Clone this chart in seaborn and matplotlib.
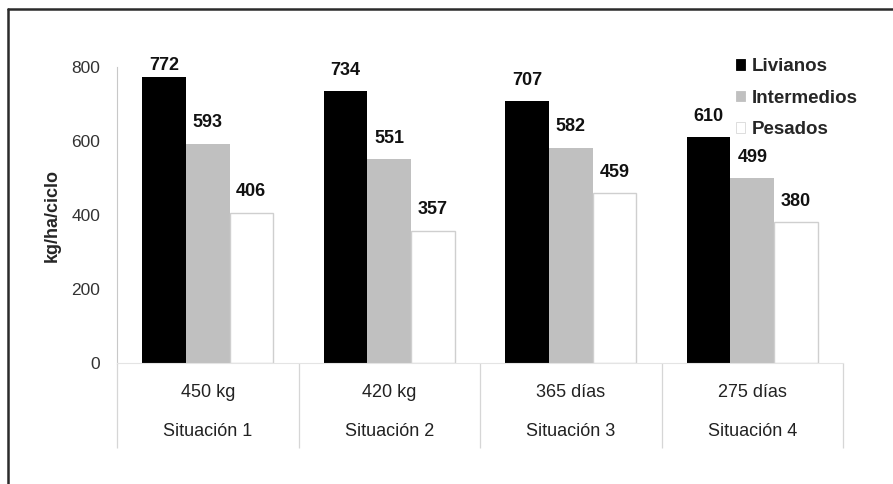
import pandas as pd
import numpy as np
import matplotlib.pyplot as plt
import seaborn as sns
from matplotlib.patches import Patch
from matplotlib.lines import Line2D
import matplotlib.transforms as mtransforms

# Datos
situaciones = ['Situación 1', 'Situación 2', 'Situación 3', 'Situación 4']
subetiquetas = ['450 kg', '420 kg', '365 días', '275 días']
categorias = ['Livianos', 'Intermedios', 'Pesados']
livianos = [772, 734, 707, 610]
intermedios = [593, 551, 582, 499]
pesados = [406, 357, 459, 380]
colores = ['#000000', '#c0c0c0', '#ffffff']


def configurar_estilos():
    sns.set_theme(style='white')
    plt.rcParams['font.family'] = ['Liberation Sans', 'DejaVu Sans']
    plt.rcParams['font.size'] = 12


def main():
    configurar_estilos()

    df = pd.DataFrame({
        'situacion': situaciones * 3,
        'categoria': np.repeat(categorias, len(situaciones)),
        'valor': livianos + intermedios + pesados,
    })

    fig = plt.figure(figsize=(8.93, 4.84), dpi=100)
    ax = fig.add_axes([117 / 893, 1 - 363 / 484, (843 - 117) / 893, 296 / 484])

    sns.barplot(data=df, x='situacion', y='valor', hue='categoria',
                order=situaciones, hue_order=categorias, palette=colores,
                width=0.72, edgecolor='none', linewidth=0, saturation=1,
                errorbar=None, legend=False, ax=ax)

    # borde gris claro para las barras blancas
    for barra in ax.containers[2]:
        barra.set_edgecolor('#cfcfcf')
        barra.set_linewidth(1.0)

    # etiquetas de valores sobre las barras
    for cont in ax.containers:
        for barra in cont:
            v = barra.get_height()
            xc = barra.get_x() + barra.get_width() / 2
            ax.text(xc, min(v + 57, 805), f'{v:.0f}', ha='center', va='center',
                    fontsize=13, fontweight='bold', color='#111111', clip_on=False)

    ax.set_ylim(0, 800)
    ax.set_xlim(-0.5, len(situaciones) - 0.5)
    ax.set_yticks([0, 200, 400, 600, 800])
    ax.tick_params(axis='y', length=0, pad=12, labelsize=12.5, labelcolor='#333333')
    ax.set_ylabel('kg/ha/ciclo', fontsize=13, fontweight='bold', labelpad=8)
    ax.set_xlabel('')

    # eje de categorías con dos niveles
    ax.set_xticks([])
    ax.set_xticks(np.arange(-0.5, len(situaciones)), minor=True)
    ax.tick_params(axis='x', which='minor', bottom=True, length=61, width=0.9,
                   color='#d6d6d6', direction='out')
    trans = mtransforms.blended_transform_factory(ax.transData, ax.transAxes)
    for i, (sub, sit) in enumerate(zip(subetiquetas, situaciones)):
        ax.text(i, -0.098, sub, transform=trans, ha='center', va='center',
                fontsize=13, color='#222222')
        ax.text(i, -0.233, sit, transform=trans, ha='center', va='center',
                fontsize=13, color='#222222')

    for lado in ['top', 'right']:
        ax.spines[lado].set_visible(False)
    ax.spines['left'].set_color('#c8c8c8')
    ax.spines['left'].set_linewidth(0.8)
    ax.spines['bottom'].set_color('#e4e4e4')
    ax.spines['bottom'].set_linewidth(0.8)

    # leyenda
    handles = [Patch(facecolor=c, edgecolor=('#d8d8d8' if c == '#ffffff' else c),
                     linewidth=0.6) for c in colores]
    fig.legend(handles, categorias, loc='upper left',
               bbox_to_anchor=(736 / 893, 1 - 58 / 484), frameon=False,
               prop={'size': 13.5, 'weight': 'bold'}, handlelength=0.5,
               handleheight=0.5, handletextpad=0.35, labelspacing=0.78,
               borderaxespad=0, borderpad=0)

    # marco exterior
    fig.add_artist(Line2D([8 / 893, 1.0], [1 - 9 / 484, 1 - 9 / 484],
                          color='#2b2b2b', linewidth=1.8))
    fig.add_artist(Line2D([8 / 893, 8 / 893], [0.0, 1 - 9 / 484],
                          color='#2b2b2b', linewidth=1.8))

    fig.savefig('out.png', dpi=100)


if __name__ == '__main__':
    main()
